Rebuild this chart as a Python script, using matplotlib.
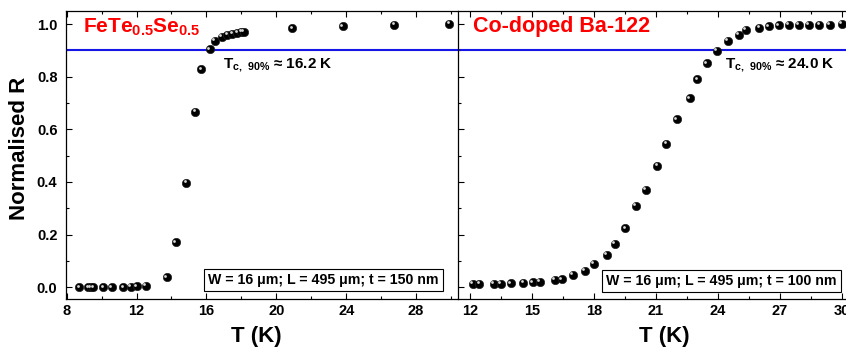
import matplotlib
matplotlib.use('Agg')
import matplotlib.pyplot as plt
from matplotlib.transforms import ScaledTranslation
from matplotlib.ticker import MultipleLocator

plt.rcParams['font.family'] = ['Liberation Sans', 'DejaVu Sans']
plt.rcParams['font.weight'] = 'bold'
plt.rcParams['mathtext.fontset'] = 'custom'
plt.rcParams['mathtext.rm'] = 'Liberation Sans:bold'
plt.rcParams['mathtext.bf'] = 'Liberation Sans:bold'
plt.rcParams['mathtext.default'] = 'bf'

# FeTe0.5Se0.5 film
t_fe = [8.72, 9.25, 9.39, 9.53, 10.1, 10.58, 11.24, 11.66, 12.03, 12.53,
        13.75, 14.26, 14.86, 15.37, 15.71, 16.19, 16.47, 16.89, 17.2, 17.49,
        17.77, 18.0, 18.15, 20.91, 23.8, 26.76, 29.9]
r_fe = [0.0, 0.0, 0.0, 0.0, 0.0, 0.0, 0.0, 0.002, 0.003, 0.006,
        0.038, 0.171, 0.397, 0.667, 0.828, 0.904, 0.937, 0.952, 0.958, 0.963,
        0.967, 0.970, 0.971, 0.984, 0.992, 0.997, 1.0]

# Co-doped Ba-122 film
t_co = [12.13, 12.45, 13.16, 13.48, 13.97, 14.58, 15.03, 15.39, 16.1, 16.45,
        16.97, 17.56, 18.0, 18.61, 19.01, 19.51, 20.02, 20.52, 21.06, 21.5,
        22.0, 22.63, 23.0, 23.45, 23.95, 24.47, 25.01, 25.34, 26.0, 26.47,
        26.95, 27.43, 27.92, 28.4, 28.9, 29.42, 29.98]
r_co = [0.0125, 0.0125, 0.014, 0.014, 0.015, 0.016, 0.019, 0.021, 0.027, 0.030,
        0.047, 0.063, 0.088, 0.122, 0.164, 0.224, 0.309, 0.370, 0.461, 0.544,
        0.638, 0.718, 0.79, 0.851, 0.899, 0.937, 0.959, 0.977, 0.987, 0.992,
        0.995, 0.996, 0.998, 0.998, 0.998, 0.998, 1.0]

tc_fe = 16.2
tc_co = 24.0

fig = plt.figure(figsize=(8.46, 3.47), dpi=100)
ax1 = fig.add_axes([0.0777, 0.1375, 0.4637, 0.831])
ax2 = fig.add_axes([0.5414, 0.1375, 0.4662, 0.831])


def balls(ax, x, y):
    ax.scatter(x, y, s=36, color='black', edgecolor='#202020', linewidth=0.5, zorder=3)
    hl = ax.transData + ScaledTranslation(-1.2 / 72, 1.2 / 72, fig.dpi_scale_trans)
    ax.scatter(x, y, s=4, color='#d8d8d8', linewidth=0, transform=hl, zorder=4)


balls(ax1, t_fe, r_fe)
balls(ax2, t_co, r_co)

for ax in (ax1, ax2):
    ax.axhline(0.9, color='#1515e6', lw=1.5, zorder=2)
    ax.set_ylim(-0.046, 1.05)
    ax.tick_params(which='both', direction='in', top=True, labelsize=10.5)
    ax.tick_params(which='major', length=4.5, width=0.8)
    ax.tick_params(which='minor', length=2.5, width=0.8)
    ax.yaxis.set_major_locator(MultipleLocator(0.2))
    ax.yaxis.set_minor_locator(MultipleLocator(0.1))
    for sp in ax.spines.values():
        sp.set_linewidth(0.9)
    ax.set_xlabel('T (K)', fontsize=16, fontweight='bold')

ax1.set_xlim(7.95, 30.4)
ax1.xaxis.set_major_locator(MultipleLocator(4))
ax1.xaxis.set_minor_locator(MultipleLocator(2))
ax1.set_ylabel('Normalised R', fontsize=16, fontweight='bold')
ax1.tick_params(axis='y', pad=6)
ax1.spines['right'].set_visible(False)
ax1.xaxis.set_label_coords(0.487, -0.093)
ax1.yaxis.set_label_coords(-0.09, 0.525)

ax2.set_xlim(11.42, 30.5)
ax2.xaxis.set_major_locator(MultipleLocator(3))
ax2.xaxis.set_minor_locator(MultipleLocator(1.5))
ax2.tick_params(axis='y', labelleft=False)
ax2.xaxis.set_label_coords(0.522, -0.093)

ax1.text(0.043, 0.924, r'FeTe$_{0.5}$Se$_{0.5}$', transform=ax1.transAxes,
         color='#ff0000', fontsize=15, fontweight='bold', va='baseline')
ax2.text(0.039, 0.926, 'Co-doped Ba-122', transform=ax2.transAxes,
         color='#ff0000', fontsize=15.5, fontweight='bold', va='baseline')

tc_sub = r'T$_{c,\ 90\%}$'
ax1.text(0.401, 0.801, tc_sub + f' ≈ {tc_fe:.1f} K', transform=ax1.transAxes,
         fontsize=11, fontweight='bold', va='baseline')
ax2.text(0.677, 0.801, tc_sub + f' ≈ {tc_co:.1f} K', transform=ax2.transAxes,
         fontsize=11, fontweight='bold', va='baseline')

box = dict(boxstyle='square,pad=0.3', facecolor='white', edgecolor='black', linewidth=0.8)
ax1.text(0.657, 0.067, 'W = 16 μm; L = 495 μm; t = 150 nm', transform=ax1.transAxes,
         fontsize=10.2, fontweight='bold', ha='center', va='center', bbox=box, zorder=5)
ax2.text(0.668, 0.063, 'W = 16 μm; L = 495 μm; t = 100 nm', transform=ax2.transAxes,
         fontsize=10.2, fontweight='bold', ha='center', va='center', bbox=box, zorder=5)

fig.savefig('out.png', dpi=100)
